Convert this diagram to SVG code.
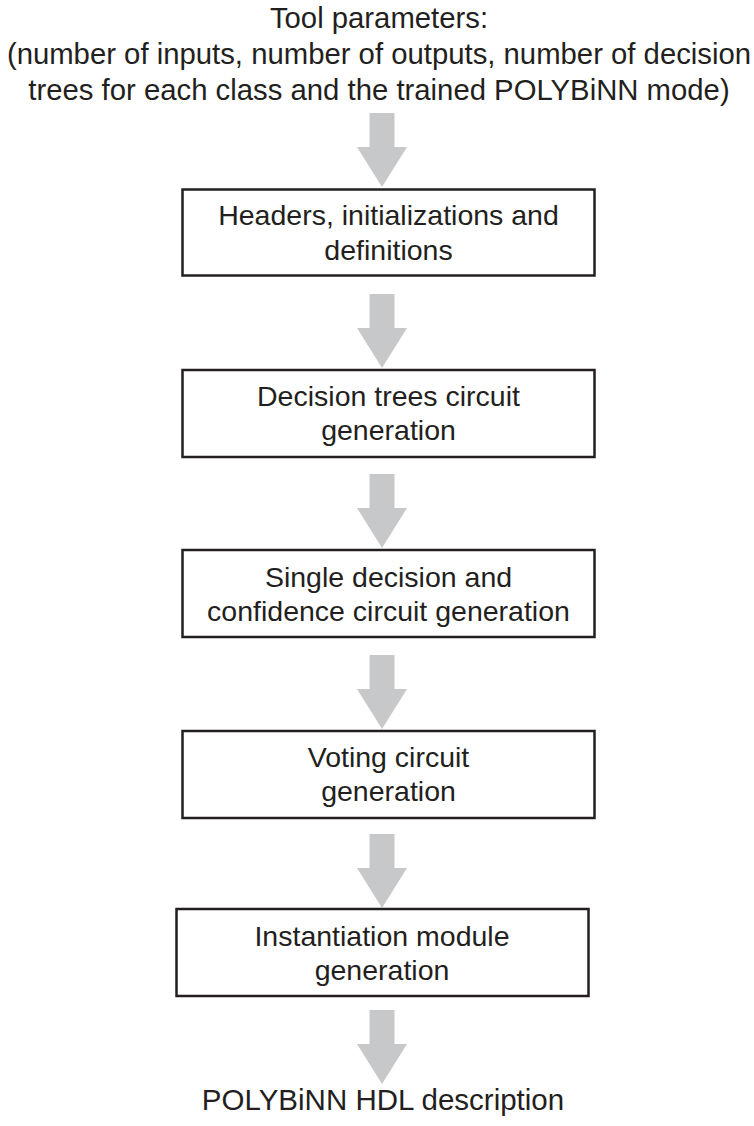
<svg xmlns="http://www.w3.org/2000/svg" width="754" height="1126" viewBox="0 0 754 1126">
<style>
text{font-family:"Liberation Sans",Arial,sans-serif;font-size:28.5px;fill:#231f20;text-anchor:middle}
.top{font-size:29.3px}
.out{font-size:29.5px}
.box{fill:#fff;stroke:#231f20;stroke-width:2.5}
.arr{fill:#c7c8ca}
</style>
<defs>
<path id="arrow" class="arr" d="M-12.5,0 H12.5 V34 H25 L0,74 L-25,34 H-12.5 Z"/>
</defs>
<rect width="754" height="1126" fill="#fff"/>
<g id="input">
<text class="top" x="379" y="28">Tool parameters:</text>
<text class="top" x="379" y="64">(number of inputs, number of outputs, number of decision</text>
<text class="top" x="379" y="100">trees for each class and the trained POLYBiNN mode)</text>
</g>
<g id="connectors">
<use href="#arrow" x="382" y="113"/>
<use href="#arrow" x="382" y="294"/>
<use href="#arrow" x="382" y="474"/>
<use href="#arrow" x="382" y="655"/>
<use href="#arrow" x="382" y="834"/>
<use href="#arrow" x="382" y="1010"/>
</g>
<g id="n1">
<rect class="box" x="182.5" y="189.5" width="412" height="86"/>
<text x="388.5" y="225">Headers, initializations and</text>
<text x="388.5" y="260">definitions</text>
</g>
<g id="n2">
<rect class="box" x="182.5" y="370" width="412" height="87"/>
<text x="388.5" y="406">Decision trees circuit</text>
<text x="388.5" y="440">generation</text>
</g>
<g id="n3">
<rect class="box" x="182.5" y="550" width="412" height="87"/>
<text x="388.5" y="587">Single decision and</text>
<text x="388.5" y="621">confidence circuit generation</text>
</g>
<g id="n4">
<rect class="box" x="182.5" y="731" width="412" height="87"/>
<text x="388.5" y="767">Voting circuit</text>
<text x="388.5" y="801">generation</text>
</g>
<g id="n5">
<rect class="box" x="176.5" y="909" width="412" height="87"/>
<text x="382" y="946">Instantiation module</text>
<text x="382" y="980">generation</text>
</g>
<g id="output">
<text class="out" x="383" y="1110">POLYBiNN HDL description</text>
</g>
</svg>
